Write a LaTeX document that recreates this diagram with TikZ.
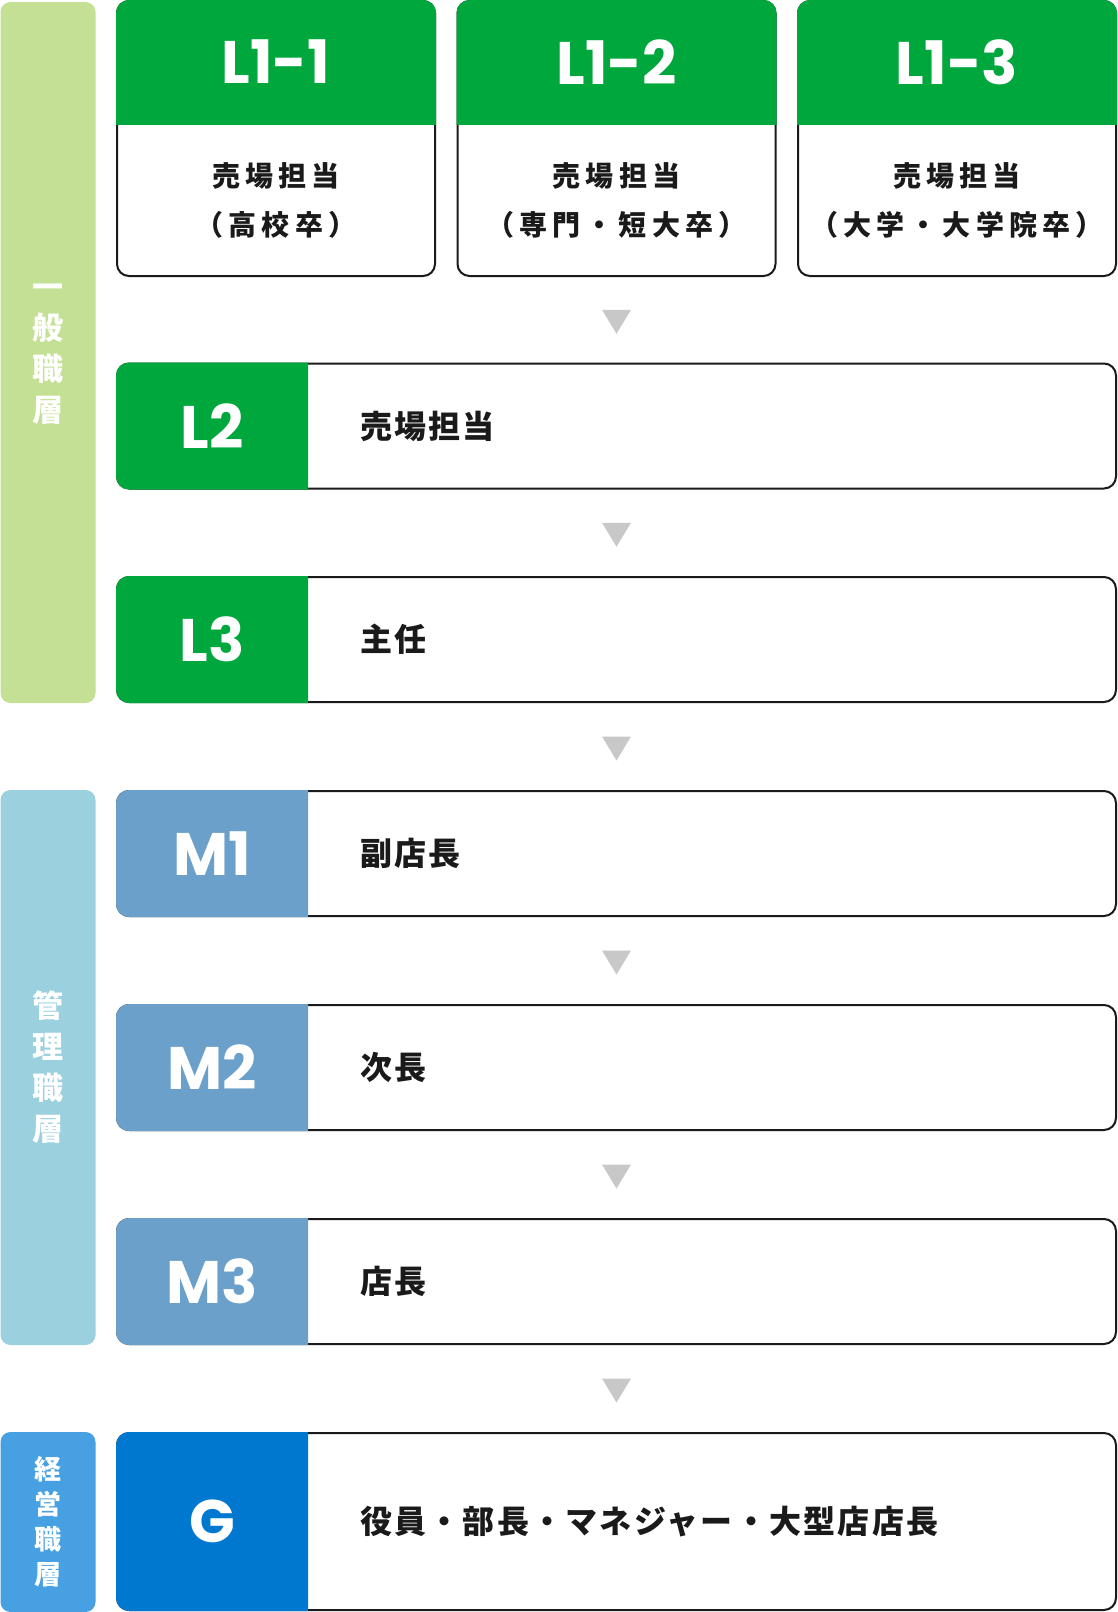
\documentclass[tikz,border=0pt]{standalone}
\usepackage{fontspec}
\newfontfamily\jp{Noto Sans CJK JP}
\newfontfamily\lbl{Poppins}
\usetikzlibrary{calc}
\definecolor{hdgreen}{HTML}{00A73C}
\definecolor{bargreen}{HTML}{C3E094}
\definecolor{tabblue}{HTML}{6AA0C9}
\definecolor{barblue}{HTML}{9BD0DF}
\definecolor{tabdeep}{HTML}{0078D0}
\definecolor{bardeep}{HTML}{46A0E2}
\definecolor{arrgray}{HTML}{C8C8C8}
\definecolor{ink}{HTML}{1A1A1A}
\tikzset{
  card/.style={draw=ink, line width=2pt, rounded corners=12pt, inner sep=0pt, minimum width=318pt, minimum height=275pt},
  rowbox/.style={draw=ink, line width=2pt, rounded corners=12pt, inner sep=0pt, minimum width=999pt},
  sidebar/.style={rounded corners=10pt, inner sep=0pt, minimum width=95pt},
  code/.style={text=white, inner sep=0pt, font={\lbl\bfseries\fontsize{60}{60}\selectfont}},
  job/.style={text=ink, inner sep=0pt, anchor=west, font={\jp\bfseries\fontsize{32}{32}\selectfont\addfontfeature{LetterSpace=7}}},
  cardtxt/.style={text=ink, inner sep=0pt, align=center, font={\jp\bfseries\fontsize{28}{49}\selectfont\addfontfeature{LetterSpace=18}}},
  sidetxt/.style={text=white, inner sep=0pt, align=center, font={\jp\bfseries\fontsize{31}{41}\selectfont}},
  sidesmall/.style={font={\jp\bfseries\fontsize{27}{35}\selectfont}}
}
\begin{document}
\begin{tikzpicture}[x=1pt,y=-1pt]
\path[use as bounding box, fill=white] (0,0) rectangle (1118,1612);

\node[sidebar, fill=bargreen, minimum height=701pt] (gen) at (48,352.5) {};
\node[sidetxt] (gen-txt) at ([yshift=-2pt]gen.center) {一\\般\\職\\層};
\node[sidebar, fill=barblue, minimum height=555pt] (mgr) at (48,1067.5) {};
\node[sidetxt] (mgr-txt) at (mgr.center) {管\\理\\職\\層};
\node[sidebar, fill=bardeep, minimum height=180pt] (exe) at (48,1522) {};
\node[sidetxt, sidesmall] (exe-txt) at (exe.center) {経\\営\\職\\層};

\foreach \nm/\xx/\cd/\jb in {l11/276/L1-1/（高校卒）, l12/616.5/L1-2/（専門・短大卒）, l13/957/L1-3/（大学・大学院卒）} {
  \node[card] (\nm) at (\xx,138.5) {};
  \begin{scope}
    \clip (\nm.north west) rectangle ([yshift=-124pt]\nm.north east);
    \fill[hdgreen, rounded corners=13pt] (\nm.north west) rectangle (\nm.south east);
  \end{scope}
  \node[code] (\nm-code) at ([yshift=-62pt]\nm.north) {\cd};
  \node[cardtxt] (\nm-job) at ([yshift=-200.5pt]\nm.north) {売場担当\\\jb};
}

\foreach \nm/\yy/\hh/\tc/\cd/\jb in {l2/426/125/hdgreen/L2/売場担当, l3/639.5/125/hdgreen/L3/主任, m1/853.5/125/tabblue/M1/副店長, m2/1067.5/125/tabblue/M2/次長, m3/1281.5/125/tabblue/M3/店長, g/1521.5/177/tabdeep/G/役員・部長・マネジャー・大型店店長} {
  \node[rowbox, minimum height=\hh pt] (\nm) at (616.5,\yy) {};
  \begin{scope}
    \clip (\nm.north west) rectangle ([xshift=192pt]\nm.south west);
    \fill[\tc, rounded corners=13pt] (\nm.north west) rectangle (\nm.south east);
  \end{scope}
  \node[code] (\nm-code) at ([xshift=96pt]\nm.west) {\cd};
  \node[job] (\nm-job) at ([xshift=244pt]\nm.west) {\jb};
}

\foreach \a/\b in {l12/l2, l2/l3, l3/m1, m1/m2, m2/m3, m3/g}
  \fill[arrgray] ($(\a.south)!.5!(\b.north)$) ++(-14.5,-10) -- ++(29,0) -- ++(-14.5,24) -- cycle;
\end{tikzpicture}
\end{document}
